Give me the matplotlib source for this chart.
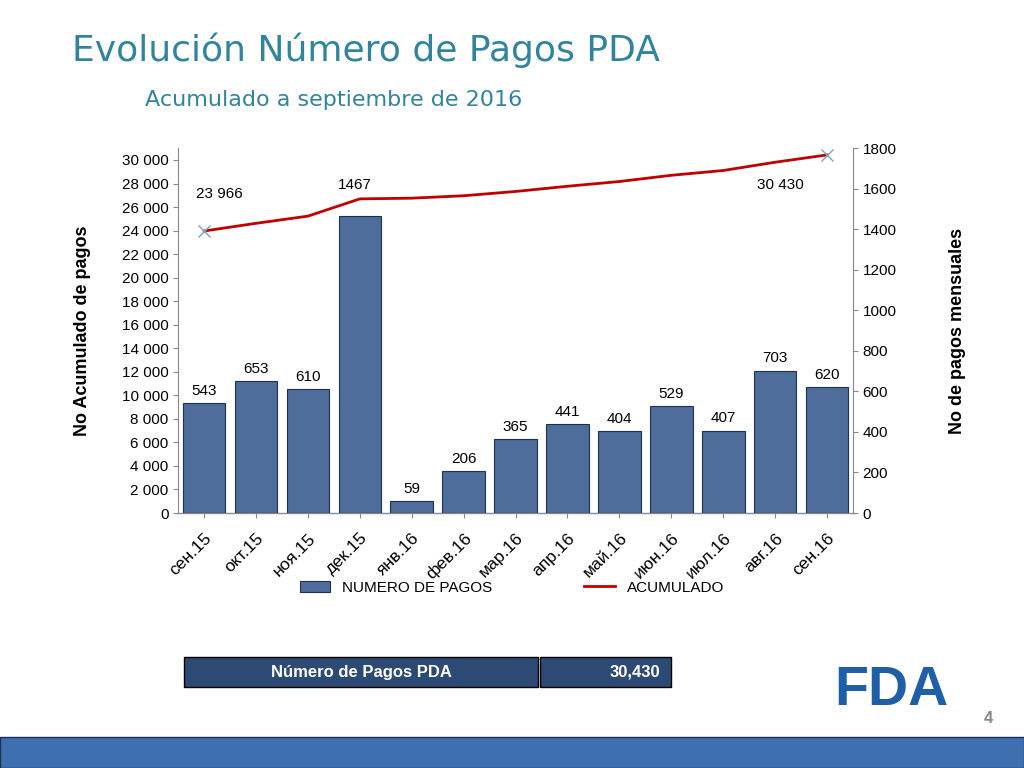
import numpy as np
import matplotlib.pyplot as plt
from matplotlib.patches import Rectangle

plt.rcParams['font.family'] = 'Liberation Sans'

months = ['сен.15', 'окт.15', 'ноя.15', 'дек.15', 'янв.16', 'фев.16', 'мар.16',
          'апр.16', 'май.16', 'июн.16', 'июл.16', 'авг.16', 'сен.16']
pagos = [543, 653, 610, 1467, 59, 206, 365, 441, 404, 529, 407, 703, 620]
acumulado = [23966, 24619, 25229, 26696, 26755, 26961, 27326, 27767, 28171,
             28700, 29107, 29810, 30430]
left_ticks = list(range(0, 30001, 2000))
right_ticks = list(range(0, 1801, 200))

fig = plt.figure(figsize=(10.24, 7.68), dpi=100)
fig.text(0.07, 0.935, 'Evolución Número de Pagos PDA', fontsize=26, color='#31849b',
         va='center', family='DejaVu Sans')
fig.text(0.142, 0.87, 'Acumulado a septiembre de 2016', fontsize=16, color='#31849b',
         va='center', family='DejaVu Sans')

ax = fig.add_axes([0.174, 0.332, 0.659, 0.475])
ax2 = ax.twinx()
x = np.arange(len(months))

ax2.bar(x, pagos, width=0.82, color='#4f6d9b', edgecolor='#1f3050', lw=0.8,
        label='NUMERO DE PAGOS', zorder=2)
for xi, v in zip(x, pagos):
    if v > 1000:
        continue
    ax2.text(xi, v + 25, str(v), ha='center', va='bottom', fontsize=11)
ax2.set_ylim(0, 1800)
ax2.set_yticks(right_ticks)
ax2.set_ylabel('No de pagos mensuales', fontsize=13, fontweight='bold', labelpad=38)

ax.plot(x, acumulado, color='#c00000', lw=2, label='ACUMULADO', zorder=5)
ax.plot([x[0], x[-1]], [acumulado[0], acumulado[-1]], 'x', color='#7f9fbf', ms=8, zorder=6)
ax.set_zorder(ax2.get_zorder() + 1)
ax.patch.set_visible(False)
ax.text(x[0] + 0.3, 27100, '23 966', ha='center', va='center', fontsize=11)
ax.text(x[3] - 0.1, 27900, '1467', ha='center', va='center', fontsize=11)
ax.text(x[-2] + 0.1, 27900, '30 430', ha='center', va='center', fontsize=11)
ax.set_ylim(0, 31000)
ax.set_yticks(left_ticks)
ax.set_yticklabels([f'{t:,}'.replace(',', ' ') for t in left_ticks])
ax.set_ylabel('No Acumulado de pagos', fontsize=13, fontweight='bold', labelpad=22)
ax.set_xlim(-0.5, len(months) - 0.5)
ax.set_xticks(x)
for a in (ax, ax2):
    a.tick_params(labelsize=11, color='#888888')
    for s in ['top', 'left', 'right']:
        a.spines[s].set_visible(False)
ax.set_xticklabels(months, rotation=45, ha='right', rotation_mode='anchor', fontsize=12.5)
ax.tick_params(axis='x', pad=9)
ax.spines['left'].set_visible(True)
ax.spines['left'].set_color('#888888')
ax2.spines['right'].set_visible(True)
ax2.spines['right'].set_color('#888888')
ax.spines['bottom'].set_color('#888888')

h1, l1 = ax2.get_legend_handles_labels()
h2, l2 = ax.get_legend_handles_labels()
fig.legend(h1 + h2, l1 + l2, loc='center', bbox_to_anchor=(0.5, 0.235), ncol=2,
           frameon=False, fontsize=11, columnspacing=6)

# summary box
fig.patches.append(Rectangle((0.18, 0.105), 0.345, 0.04, transform=fig.transFigure,
                             facecolor='#2c4a74', edgecolor='black'))
fig.patches.append(Rectangle((0.527, 0.105), 0.128, 0.04, transform=fig.transFigure,
                             facecolor='#2c4a74', edgecolor='black'))
fig.text(0.353, 0.125, 'Número de Pagos PDA', color='white', fontsize=12,
         fontweight='bold', ha='center', va='center')
fig.text(0.645, 0.125, '30,430', color='white', fontsize=12,
         fontweight='bold', ha='right', va='center')
fig.text(0.87, 0.1, 'FDA', color='#1f5fa8', fontsize=40, fontweight='bold',
         ha='center', va='center')
fig.text(0.97, 0.058, '4', color='#888888', fontsize=12, fontweight='bold', ha='right')
fig.patches.append(Rectangle((0.0, 0.0), 1.0, 0.04, transform=fig.transFigure,
                             facecolor='#3e6fb0', edgecolor='#1f3050'))

fig.savefig('out.png')
